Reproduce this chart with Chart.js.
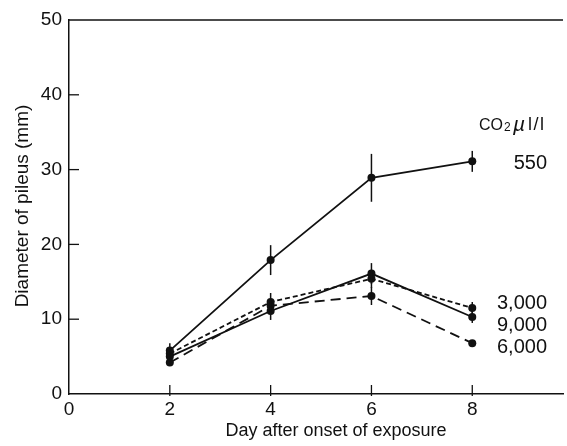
<!DOCTYPE html>
<html>
<head>
<meta charset="utf-8">
<script src="https://cdn.jsdelivr.net/npm/chart.js@4.4.1/dist/chart.umd.min.js"></script>
<style>
  html, body { margin: 0; padding: 0; background: #fff; }
  #wrap { width: 567px; height: 446px; }
</style>
</head>
<body>
<div id="wrap"><canvas id="myChart"></canvas></div>
<script>
// days after onset of exposure
var days = [2, 4, 6, 8];
var xTicks = [0, 2, 4, 6, 8];
var yTicks = [0, 10, 20, 30, 40, 50];

// diameter of pileus (mm) per CO2 level
var co2_550 = [5.8, 17.9, 28.9, 31.1];
var co2_3000 = [5.4, 12.3, 15.4, 11.5];
var co2_9000 = [5.0, 11.1, 16.1, 10.3];
var co2_6000 = [4.2, 11.8, 13.1, 6.8];

// half length of the error bars
var err_550 = [1.0, 2.0, 3.2, 1.4];
var err_3000 = [0.6, 1.2, 1.2, 0.8];
var err_9000 = [0.8, 1.2, 1.4, 0.8];
var err_6000 = [0.3, 0.8, 1.2, 0.3];

var seriesLabels = ["550", "3,000", "9,000", "6,000"];

var sans = "'Liberation Sans', Arial, sans-serif";

function pts(vals) {
  return days.map(function (d, i) { return { x: d, y: vals[i] }; });
}

function series(label, vals, errs, dash) {
  return {
    label: label,
    data: pts(vals),
    errs: errs,
    borderColor: "#111",
    backgroundColor: "#111",
    borderWidth: 1.8,
    borderDash: dash,
    pointRadius: 4,
    pointBorderWidth: 0,
    tension: 0,
    showLine: true
  };
}

var decor = {
  id: "decor",
  afterDatasetsDraw: function (chart) {
    var ctx = chart.ctx;
    var xs = chart.scales.x, ys = chart.scales.y;
    var a = chart.chartArea;
    ctx.save();
    ctx.strokeStyle = "#111";
    ctx.lineWidth = 1.5;

    // error bars
    chart.data.datasets.forEach(function (ds) {
      ds.data.forEach(function (p, i) {
        var e = ds.errs[i];
        if (!e) return;
        var px = xs.getPixelForValue(p.x);
        ctx.beginPath();
        ctx.moveTo(px, ys.getPixelForValue(p.y - e));
        ctx.lineTo(px, ys.getPixelForValue(p.y + e));
        ctx.stroke();
      });
    });

    // top frame line
    ctx.beginPath();
    ctx.moveTo(a.left, a.top);
    ctx.lineTo(a.right, a.top);
    ctx.stroke();

    // inward ticks
    ctx.lineWidth = 1.3;
    yTicks.forEach(function (v) {
      if (v === 0 || v === 50) return;
      var py = ys.getPixelForValue(v);
      ctx.beginPath();
      ctx.moveTo(a.left, py);
      ctx.lineTo(a.left + 10, py);
      ctx.stroke();
    });
    xTicks.forEach(function (v) {
      if (v === 0) return;
      var px = xs.getPixelForValue(v);
      ctx.beginPath();
      ctx.moveTo(px, a.bottom + 2);
      ctx.lineTo(px, a.bottom - 9);
      ctx.stroke();
    });

    // axis titles
    ctx.fillStyle = "#111";
    ctx.font = "18px " + sans;
    ctx.textAlign = "center";
    ctx.textBaseline = "alphabetic";
    ctx.fillText("Day after onset of exposure", 336, 436);

    ctx.save();
    ctx.translate(28, 206);
    ctx.rotate(-Math.PI / 2);
    ctx.font = "19px " + sans;
    ctx.fillText("Diameter of pileus (mm)", 0, 0);
    ctx.restore();

    // series labels at right
    ctx.font = "20px " + sans;
    ctx.textAlign = "right";
    ctx.textBaseline = "middle";
    var labelY = [163, 303, 325, 347];
    seriesLabels.forEach(function (t, i) {
      ctx.fillText(t, 547, labelY[i]);
    });

    // CO2 µl/l heading
    ctx.textAlign = "left";
    ctx.textBaseline = "alphabetic";
    ctx.font = "16px " + sans;
    ctx.fillText("CO", 479, 130);
    ctx.font = "12px " + sans;
    ctx.fillText("2", 504, 131);
    ctx.font = "italic 21px " + sans;
    ctx.fillText("\u00b5", 513, 131);
    ctx.font = "18px " + sans;
    ctx.letterSpacing = "1.5px";
    ctx.fillText("l/l", 528, 130);
    ctx.letterSpacing = "0px";

    ctx.restore();
  }
};

var myChart = document.getElementById("myChart").getContext("2d");
var chart = new Chart(myChart, {
  type: "scatter",
  data: {
    datasets: [
      series("550", co2_550, err_550, []),
      series("3,000", co2_3000, err_3000, [5, 3]),
      series("9,000", co2_9000, err_9000, []),
      series("6,000", co2_6000, err_6000, [10, 6])
    ]
  },
  options: {
    responsive: true,
    maintainAspectRatio: false,
    animation: false,
    layout: { padding: { top: 20, right: 0, left: 0, bottom: 0 } },
    plugins: { legend: { display: false }, tooltip: { enabled: false } },
    scales: {
      x: {
        type: "linear",
        min: 0,
        max: 9.8,
        afterBuildTicks: function (scale) {
          scale.ticks = xTicks.map(function (v) { return { value: v }; });
        },
        afterFit: function (scale) { scale.height = 52; },
        ticks: { color: "#111", font: { family: sans, size: 19 }, padding: 4, maxRotation: 0 },
        grid: { display: true, drawOnChartArea: false, drawTicks: false },
        border: { display: true, color: "#111", width: 1.5 }
      },
      y: {
        min: 0,
        max: 50,
        afterBuildTicks: function (scale) {
          scale.ticks = yTicks.map(function (v) { return { value: v }; });
        },
        afterFit: function (scale) { scale.width = 69; },
        ticks: { color: "#111", font: { family: sans, size: 19 }, padding: 7 },
        grid: { display: true, drawOnChartArea: false, drawTicks: false },
        border: { display: true, color: "#111", width: 1.5 }
      }
    }
  },
  plugins: [decor]
});
</script>
</body>
</html>
